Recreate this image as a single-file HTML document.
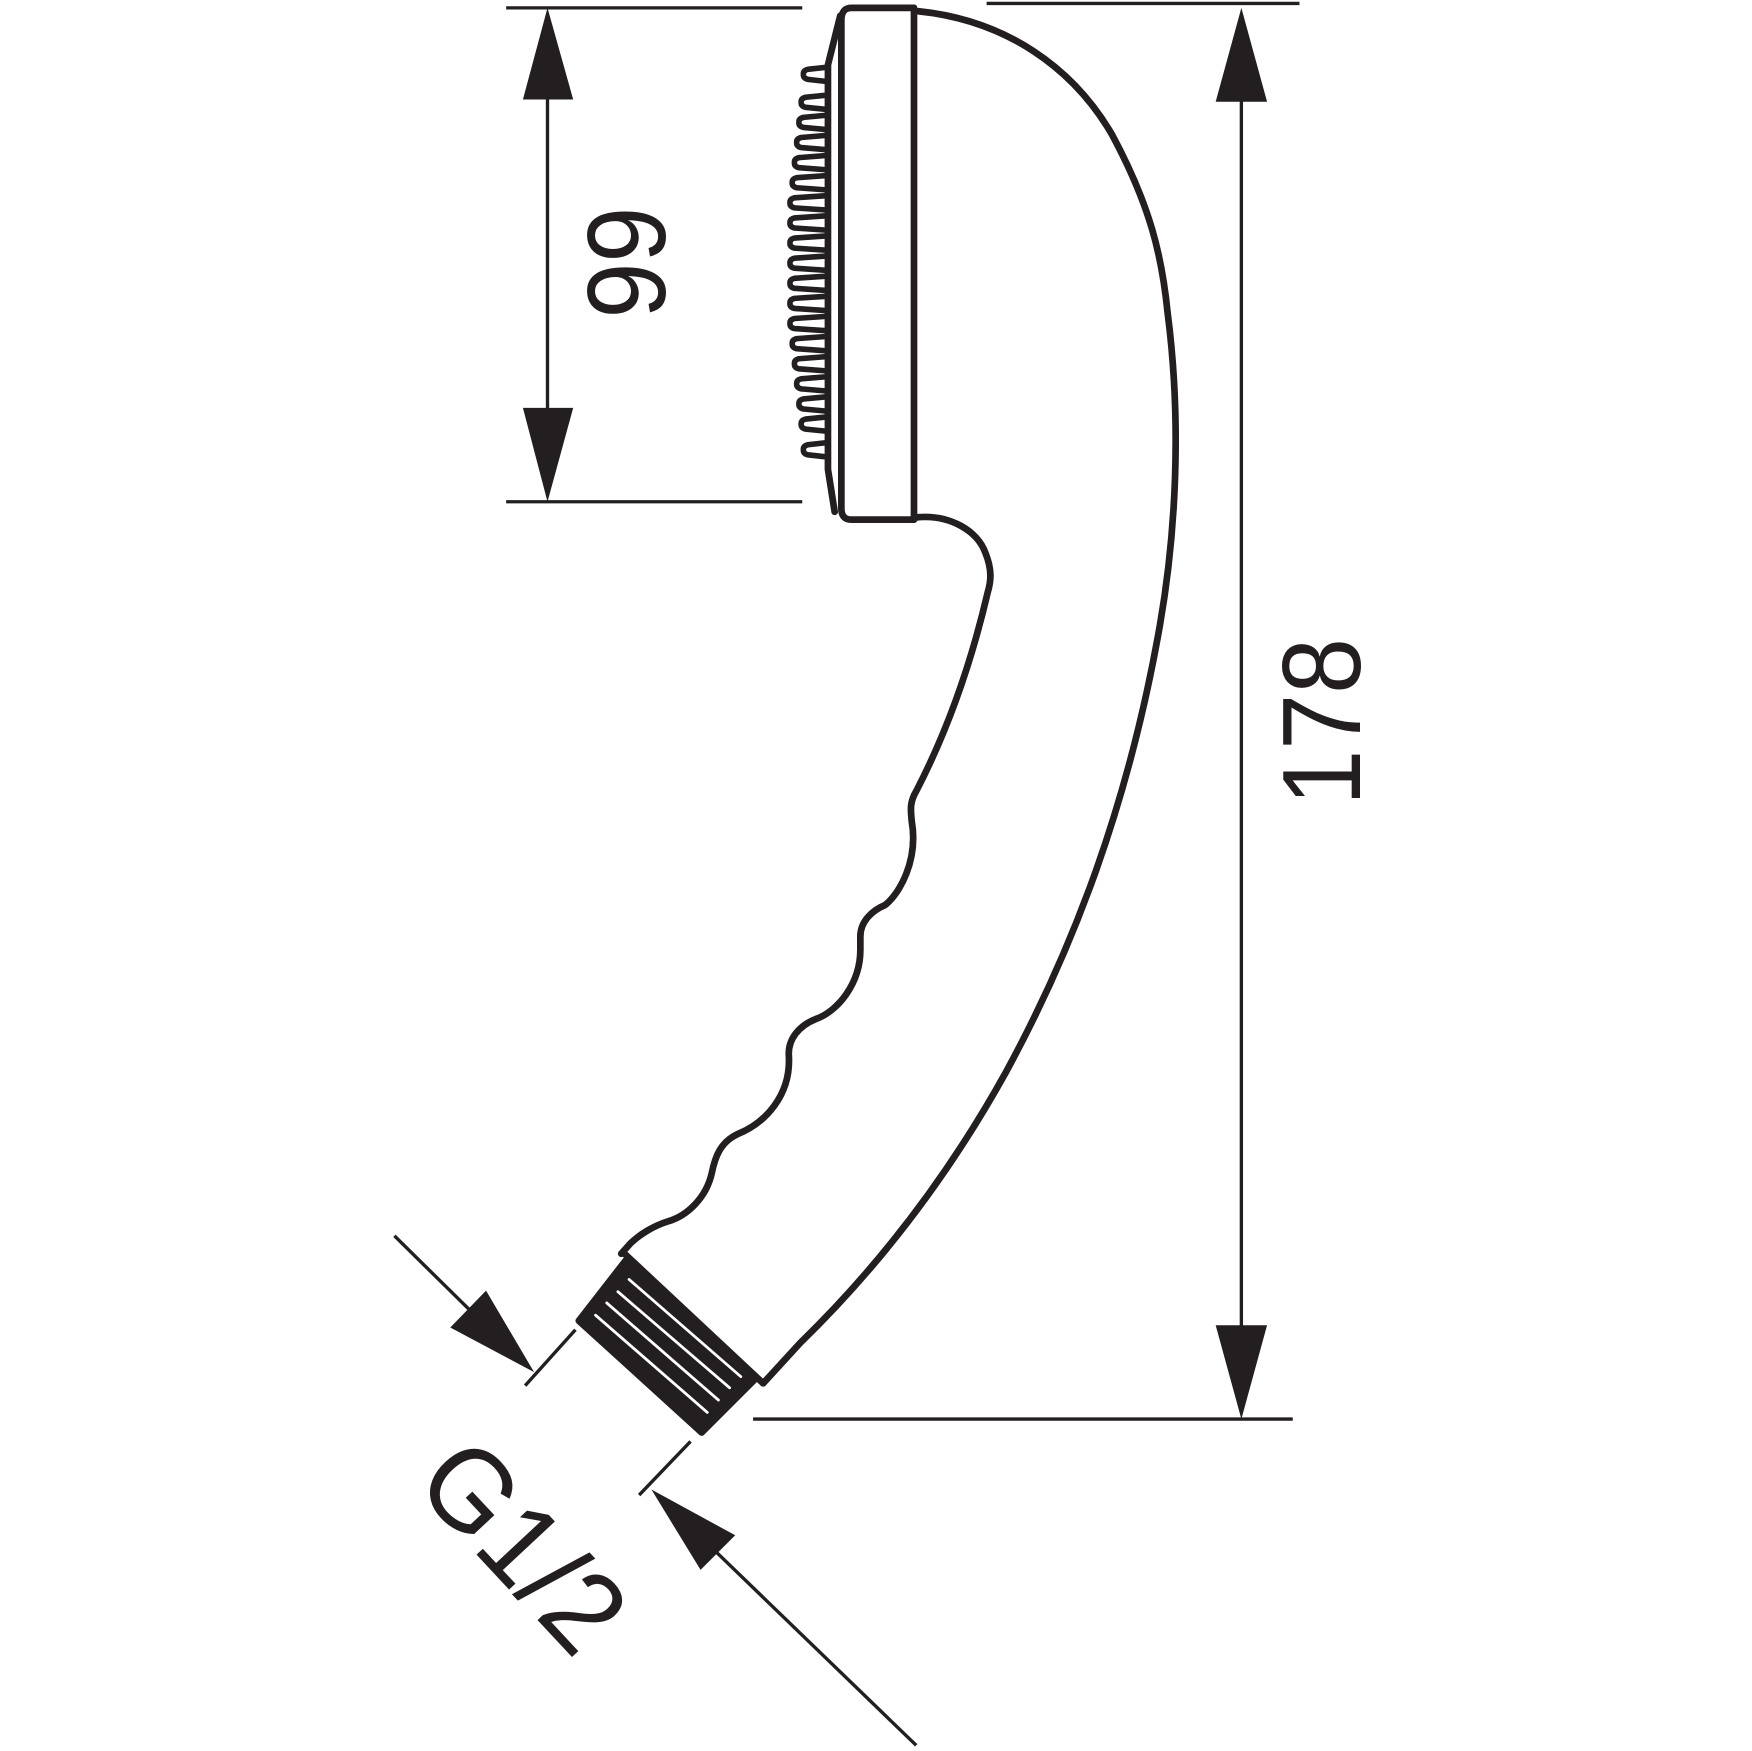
<!DOCTYPE html>
<html><head><meta charset="utf-8"><style>html,body{margin:0;padding:0;background:#fff}svg{display:block}</style></head>
<body>
<svg width="1752" height="1751" viewBox="0 0 1568 1567" xmlns="http://www.w3.org/2000/svg">
<g stroke="#231f20" fill="none" stroke-linecap="round" stroke-linejoin="round">
<!-- dim lines -->
<g stroke-width="3" stroke-linecap="butt">
<line x1="453" y1="7" x2="718" y2="7"/>
<line x1="453" y1="449" x2="718" y2="449"/>
<line x1="490" y1="80" x2="490" y2="370"/>
<line x1="883" y1="3" x2="1163" y2="3"/>
<line x1="674" y1="1270" x2="1157" y2="1270"/>
<line x1="1111" y1="80" x2="1111" y2="1190"/>
<line x1="353" y1="1106" x2="420" y2="1172"/>
<line x1="470" y1="1240" x2="515" y2="1190"/>
<line x1="572" y1="1338" x2="618" y2="1290"/>
<line x1="640" y1="1388" x2="820" y2="1562"/>
</g>
<g fill="#231f20" stroke="none">
<polygon points="490,7 468,89 513,89"/>
<polygon points="468,365 513,365 490,449"/>
<polygon points="1111,7 1088,91 1134,91"/>
<polygon points="1088,1186 1134,1186 1111,1270"/>
<polygon points="478,1228 403,1188 435,1155"/>
<polygon points="583,1333 627,1405 658,1374"/>
</g>
<!-- head -->
<g stroke-width="6">
<path d="M818 7 L762 7 Q753 7 753 18 L753 455 Q753 465 762 465 L818 465"/>
<path d="M818 7 L818 465"/>
<path d="M752 14 L741 58 L741 420 L747 458"/>
</g>
<g stroke-width="5">
<path d="M741 60 L723 62 Q719 63 719 66 L719 67 Q719 70 723 71 L741 73"/>
<path d="M741 85 L721 87 Q717 88 717 91 L717 92 Q717 95 721 96 L741 98"/>
<path d="M741 103 L719 105 Q715 106 715 109 L715 110 Q715 113 719 114 L741 116"/>
<path d="M741 121 L717 123 Q713 124 713 127 L713 128 Q713 131 717 132 L741 134"/>
<path d="M741 139 L715 141 Q711 142 711 145 L711 146 Q711 149 715 150 L741 152"/>
<path d="M741 157 L713 159 Q709 160 709 163 L709 164 Q709 167 713 168 L741 170"/>
<path d="M741 175 L711 177 Q707 178 707 181 L707 182 Q707 185 711 186 L741 188"/>
<path d="M741 193 L711 195 Q707 196 707 199 L707 200 Q707 203 711 204 L741 206"/>
<path d="M741 211 L711 213 Q707 214 707 217 L707 218 Q707 221 711 222 L741 224"/>
<path d="M741 229 L711 231 Q707 232 707 235 L707 236 Q707 239 711 240 L741 242"/>
<path d="M741 247 L711 249 Q707 250 707 253 L707 254 Q707 257 711 258 L741 260"/>
<path d="M741 265 L711 267 Q707 268 707 271 L707 272 Q707 275 711 276 L741 278"/>
<path d="M741 283 L711 285 Q707 286 707 289 L707 290 Q707 293 711 294 L741 296"/>
<path d="M741 301 L713 303 Q709 304 709 307 L709 308 Q709 311 713 312 L741 314"/>
<path d="M741 319 L715 321 Q711 322 711 325 L711 326 Q711 329 715 330 L741 332"/>
<path d="M741 337 L717 339 Q713 340 713 343 L713 344 Q713 347 717 348 L741 350"/>
<path d="M741 355 L719 357 Q715 358 715 361 L715 362 Q715 365 719 366 L741 368"/>
<path d="M741 373 L721 375 Q717 376 717 379 L717 380 Q717 383 721 384 L741 386"/>
<path d="M741 396 L723 398 Q719 399 719 402 L719 403 Q719 406 723 407 L741 409"/>
</g>
<!-- body -->
<g stroke-width="6">
<path d="M820 463 C850 460 875 475 882 495 C888 510 887 520 884 530 C870 590 850 650 820 708 C814 718 815 725 816 735 C822 770 805 800 792 810 C780 815 770 825 770 838 L770 850 C770 880 750 905 730 912 C715 918 705 930 706 945 C708 980 685 1005 660 1015 C645 1022 640 1035 637 1050 C632 1072 615 1088 598 1093 C585 1097 572 1105 564 1113 L556 1122"/>
<path d="M822 10 C900 18 960 60 995 120 C1030 185 1040 230 1045 280 C1058 380 1052 480 1038 560 C1010 720 960 850 900 960 C850 1050 790 1130 716 1202 L683 1238"/>
<path d="M560 1123 L683 1238"/>
</g>
<!-- thread -->
<polygon points="518,1182 560,1128 675,1235 628,1282" fill="#231f20" stroke-width="6"/>
<g stroke="#fff" stroke-width="2.5">
<line x1="563" y1="1145" x2="663" y2="1232"/>
<line x1="553" y1="1156" x2="653" y2="1242"/>
<line x1="543" y1="1166" x2="643" y2="1253"/>
<line x1="533" y1="1177" x2="633" y2="1264"/>
</g>
</g>
<g fill="#231f20" font-family="Liberation Sans, sans-serif" font-size="100">
<text transform="translate(595,235) rotate(-90)" text-anchor="middle" textLength="100" lengthAdjust="spacingAndGlyphs">99</text>
<text transform="translate(1217,646) rotate(-90)" text-anchor="middle" textLength="150" lengthAdjust="spacingAndGlyphs">178</text>
<text transform="translate(442,1408) rotate(47)" text-anchor="middle" font-size="104" textLength="215" lengthAdjust="spacingAndGlyphs">G1/2</text>
</g>
</svg>
</body></html>
